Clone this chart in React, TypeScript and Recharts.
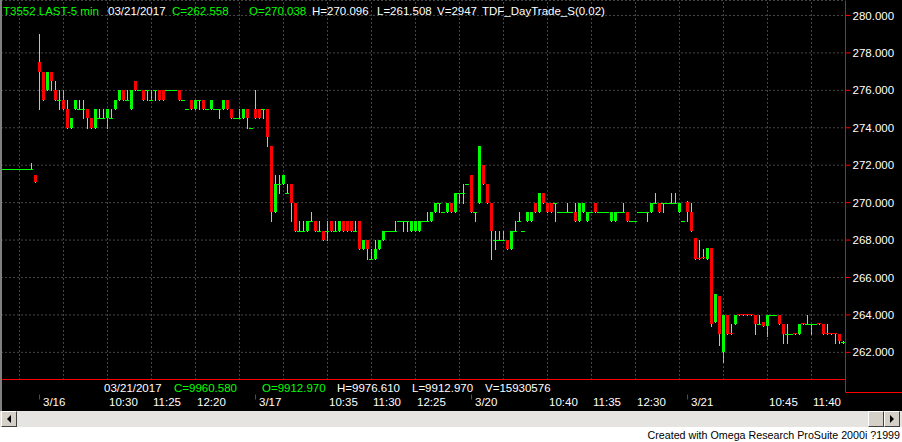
import { ComposedChart, Bar, XAxis, YAxis, CartesianGrid, ReferenceLine } from "recharts";

// open, high, low, close
type Ohlc = [number, number, number, number];

const days = ["3/15", "3/16", "3/17", "3/20", "3/21"];
const dayStart = ["12:50", "9:05", "9:05", "9:05", "9:05"];

const mar15: Ohlc[] = [
  [271.8, 271.8, 271.8, 271.8], [271.8, 271.8, 271.8, 271.8], [271.8, 271.8, 271.8, 271.8],
  [271.8, 271.8, 271.8, 271.8], [271.8, 271.8, 271.8, 271.8], [271.8, 271.8, 271.8, 271.8],
  [271.8, 271.8, 271.8, 271.8], [271.8, 272.1, 271.8, 271.8], [271.5, 271.5, 271.1, 271.1],
];

const mar16: Ohlc[] = [
  [277.5, 279, 275, 277], [277, 277, 275.5, 275.5], [276, 277, 276, 277], [277, 277, 276, 276.5],
  [276, 276.5, 275.5, 275.5], [275.5, 276, 275, 275.5], [275.5, 276, 275, 275], [275, 275.5, 274, 274],
  [274, 274.5, 274, 274.5], [275, 275.5, 275, 275.5], [275, 275.5, 275, 275], [275, 275.5, 274.5, 275],
  [275, 275, 274, 274.5], [274.5, 274.5, 274, 274], [274, 275, 274, 275], [274.5, 275, 274.5, 274.5],
  [274.5, 275, 274.5, 274.5], [274.5, 275, 274, 275], [274.5, 275, 274.5, 274.5], [275, 275.5, 275, 275.5],
  [275.5, 276, 275.5, 276], [276, 276, 275.5, 275.5], [275.5, 276, 275.5, 275.5], [275, 276, 275, 276],
  [276.5, 276.5, 276, 276], [276, 276, 276, 276], [276, 276, 275.5, 275.5], [276, 276, 275.5, 276],
  [275.5, 276, 275.5, 275.5], [276, 276, 275.5, 276], [276, 276, 275.5, 275.5], [276, 276, 275.5, 275.5],
  [276, 276, 276, 276], [276, 276, 276, 276], [276, 276, 276, 276], [276, 276, 275.5, 275.5],
  [275.5, 275.5, 275.5, 275.5], [275, 275, 275, 275], [275.5, 275.5, 275, 275], [275, 275.5, 275, 275.5],
  [275.5, 275.5, 275, 275.5], [275.5, 275.5, 275, 275], [275, 275, 275, 275], [275, 275.5, 275, 275.5],
  [275, 275, 275, 275], [275, 275, 274.5, 275], [275, 275.5, 275, 275.5], [275.5, 275.5, 275, 275],
  [275, 275, 274.5, 274.5], [274.5, 274.5, 274.5, 274.5], [274.5, 275, 274.5, 274.5], [274.5, 275, 274.5, 275],
  [275, 275, 274, 274.5], [274, 274, 274, 274],
];

const mar17: Ohlc[] = [
  [275, 276, 274.5, 274.5], [275, 275, 274.5, 274.5], [275, 275, 274.5, 275], [275, 275, 273, 273.5],
  [273, 273, 269, 269.5], [269.5, 271.5, 269.5, 271], [271, 271.5, 270.5, 271], [271, 271.5, 271, 271.5],
  [270.5, 271, 270.5, 270.5], [271, 271, 269, 270], [270, 270, 268.5, 268.5], [268.5, 269, 268.5, 268.5],
  [268.5, 269, 268.5, 268.5], [268.5, 269, 268.5, 269], [269, 269.5, 269, 269], [269, 269, 268.5, 268.5],
  [268.5, 269, 268.5, 268.5], [268.5, 268.5, 268, 268], [268.5, 269, 268, 268.5], [269, 269, 268.5, 268.5],
  [268.5, 269, 268.5, 268.5], [268.5, 269, 268.5, 269], [269, 269, 268.5, 268.5], [269, 269, 268.5, 268.5],
  [269, 269, 268.5, 268.5], [268.5, 269, 268.5, 268.5], [269, 269, 267.5, 267.5], [267.5, 268, 267.5, 268],
  [268, 268, 267, 267.5], [267, 267.5, 267, 267], [267, 268, 267, 267.5], [267.5, 268, 267.5, 268],
  [268, 268.5, 268, 268.5], [268.5, 268.5, 268.5, 268.5], [268.5, 268.5, 268.5, 268.5], [268.5, 269, 268.5, 268.5],
  [269, 269, 269, 269], [269, 269, 268.5, 269], [269, 269, 268.5, 269], [268.5, 269, 268.5, 269],
  [268.5, 269, 268.5, 269], [268.5, 269, 268.5, 269], [269, 269, 269, 269], [269, 269.5, 269, 269],
  [269, 269.5, 269, 269.5], [269.5, 270, 269.5, 270], [270, 270, 269.5, 270], [269.5, 269.5, 269.5, 269.5],
  [269.5, 270, 269.5, 270], [270, 270, 269.5, 269.5], [269.5, 270.5, 269.5, 270.5], [270.5, 270.5, 270, 270.5],
  [270.5, 271, 270, 270.5], [271, 271, 271, 271],
];

const mar20: Ohlc[] = [
  [271.5, 271.5, 269.5, 269.5], [269.5, 269.5, 269, 269.5], [270, 273, 270, 273], [272, 272, 271, 271],
  [271, 271, 270, 270], [270, 270, 267, 268.5], [268, 268.5, 267.5, 268], [268, 268.5, 268, 268],
  [268, 268.5, 268, 268], [268, 268, 267.5, 267.5], [267.5, 268.5, 267.5, 268.5], [268.5, 269, 268.5, 268.5],
  [269, 269.5, 269, 269], [268.5, 268.5, 268.5, 268.5], [269, 269.5, 269, 269.5], [269, 269.5, 269, 269.5],
  [270, 270, 269.5, 269.5], [269.5, 270.5, 269.5, 270.5], [270.5, 270.5, 270, 270], [270, 270, 269.5, 269.5],
  [270, 270, 269.5, 269.5], [270, 270, 269, 270], [269.5, 269.5, 269.5, 269.5], [269.5, 269.5, 269.5, 269.5],
  [269.5, 270, 269.5, 269.5], [269.5, 269.5, 269.5, 269.5], [269.5, 270, 269, 269], [269, 270, 269, 270],
  [269.5, 270, 269.5, 270], [269, 269.5, 269, 269.5], [269.5, 269.5, 269.5, 269.5], [270, 270, 269.5, 269.5],
  [269.5, 269.5, 269.5, 269.5], [269.5, 269.5, 269.5, 269.5], [269.5, 269.5, 269.5, 269.5], [269, 269.5, 269, 269.5],
  [269, 269.5, 269, 269.5], [269.5, 269.5, 269.5, 269.5], [269.5, 270, 269.5, 269.5], [269.5, 269.5, 269, 269],
  [269, 269, 269, 269], [269, 269, 269, 269], [269.5, 269.5, 269.5, 269.5], [269.5, 269.5, 269.5, 269.5],
  [269.5, 269.5, 269, 269.5], [269.5, 270, 269.5, 270], [270, 270.5, 270, 270], [270, 270, 269.5, 269.5],
  [270, 270, 269.5, 270], [270, 270, 270, 270], [270, 270.5, 270, 270], [270, 270.5, 270, 270],
  [269.5, 270, 269.5, 270], [269, 269, 269, 269],
];

const mar21: Ohlc[] = [
  [270.04, 270.1, 269, 269.5], [269.5, 270, 268.5, 268.5], [268.1, 268.1, 267, 267], [267.05, 268, 267, 267],
  [267.1, 267.5, 267.05, 267.05], [267, 267.6, 267, 267.6], [267.6, 267.6, 263.4, 263.5], [263.6, 265.1, 263.6, 265.1],
  [265, 265, 262.4, 263], [262, 264, 261.51, 264], [264, 264, 263, 263], [263.05, 263.5, 263, 263],
  [263.5, 264, 263.5, 264], [264.05, 264.05, 264, 264], [264.05, 264.05, 264, 264], [264.05, 264.05, 264, 264],
  [264.05, 264.05, 264, 264], [264, 264, 263, 263.5], [263.5, 264, 263.5, 263.5], [263.6, 263.6, 263.4, 263.4],
  [263.4, 264, 262.9, 264], [264, 264, 264, 264], [264, 264, 264, 264], [264, 264, 263.5, 263.5],
  [263.5, 263.5, 262.5, 263], [263, 263.5, 262.5, 263], [263, 263, 263, 263], [263.05, 263.05, 263, 263],
  [263, 263.5, 263, 263.5], [263.55, 263.55, 263.5, 263.5], [263.5, 264, 263.5, 263.5], [263.5, 263.5, 263, 263.5],
  [263.5, 263.5, 263.5, 263.5], [263.55, 263.55, 263.5, 263.5], [263.5, 263.5, 263, 263], [263.05, 263.5, 263, 263],
  [263.05, 263.05, 263, 263], [263.05, 263.05, 262.5, 263], [263, 263, 262.5, 262.6], [262.56, 262.6, 262.5, 262.56],
];

const dayBars = [mar15, mar16, mar17, mar20, mar21];

const priceTicks = [262, 264, 266, 268, 270, 272, 274, 276, 278, 280];

// labelled bars on the time axis (first bar of a day shows the date)
const timeTicks = [
  "3/16 9:05", "3/16 10:30", "3/16 11:25", "3/16 12:20",
  "3/17 9:05", "3/17 10:35", "3/17 11:30", "3/17 12:25",
  "3/20 9:05", "3/20 10:40", "3/20 11:35", "3/20 12:30",
  "3/21 9:05", "3/21 10:45", "3/21 11:40",
];

const data = dayBars.flatMap((bars, d) =>
  bars.map(([o, h, l, c], i) => {
    const [hh, mm] = dayStart[d].split(":").map(Number);
    const t = hh * 60 + mm + 5 * i;
    const time = `${Math.floor(t / 60)}:${String(t % 60).padStart(2, "0")}`;
    return { id: `${days[d]} ${time}`, day: days[d], time, o, h, l, c, range: [l, h] };
  })
);

// dotted vertical grid every 11 bars
const gridIds = data.filter((_, i) => i % 11 === 4).map((d) => d.id);

const GREEN = "#00ff00";
const RED = "#ff0000";
const FONT = "'Liberation Sans', Arial, sans-serif";

const Candle = (props: any) => {
  const { x, y, width, height, payload } = props;
  const { o, h, l, c } = payload;
  const cx = Math.floor(x + width / 2);
  const ppu = h > l ? height / (h - l) : 0;
  const yOf = (v: number) => y + (h - v) * ppu;
  const top = Math.round(yOf(Math.max(o, c)));
  const bot = Math.round(yOf(Math.min(o, c)));
  const color = c >= o ? GREEN : RED;
  const wTop = Math.round(y);
  const wBot = Math.round(y + height);
  return (
    <g>
      {wBot - wTop > 0 && <rect x={cx} y={wTop} width={1} height={wBot - wTop + 1} fill="#c0c0c0" />}
      {bot - top >= 2 ? (
        <rect x={cx - 1} y={top} width={3} height={bot - top} fill={color} />
      ) : (
        <rect x={cx - 2} y={top} width={4} height={1} fill={color} />
      )}
    </g>
  );
};

const TimeTick = (props: any) => {
  const { x, y, payload } = props;
  const bar = data.find((d) => d.id === payload.value);
  if (!bar) return null;
  const isDay = bar.time === "9:05";
  return (
    <g>
      {isDay && <line x1={x} x2={x} y1={y + 15} y2={y + 20} stroke={RED} />}
      <text x={isDay ? x + 3.5 : x + 1.5} y={y + 26.5} fill="#ffffff" fontSize={11.5} fontFamily={FONT}>
        {isDay ? bar.day : bar.time}
      </text>
    </g>
  );
};

const txt = (x: number, y: number, s: string, fill: string) => (
  <text x={x} y={y} fill={fill} fontSize={11.5} fontFamily={FONT}>
    {s}
  </text>
);

const btn = {
  position: "absolute" as const, top: 411, width: 14, height: 14, background: "#d4d0c8",
  borderTop: "1px solid #ffffff", borderLeft: "1px solid #ffffff",
  borderRight: "1px solid #404040", borderBottom: "1px solid #404040",
};

export default function App() {
  return (
    <div style={{ position: "absolute", left: 0, top: 0, width: 902, height: 442, background: "#ffffff" }}>
      <div style={{ position: "absolute", left: 0, top: 0, width: 902, height: 411, background: "#000000" }}>
        <ComposedChart
          width={902}
          height={411}
          data={data}
          margin={{ top: 0.5, right: 0, bottom: 0.5, left: 1.5 }}
          barCategoryGap={0}
        >
          <CartesianGrid stroke="#8c8c8c" strokeDasharray="1 3" vertical={false} />
          {gridIds.map((id) => (
            <ReferenceLine key={id} x={id} stroke="#8c8c8c" strokeDasharray="1 3" />
          ))}
          <XAxis
            dataKey="id"
            ticks={timeTicks}
            interval={0}
            height={31}
            tickSize={0}
            tickMargin={0}
            tick={<TimeTick />}
            axisLine={{ stroke: RED }}
            tickLine={false}
          />
          <YAxis
            orientation="right"
            width={56.5}
            domain={[260.55, 280.8]}
            allowDataOverflow
            ticks={priceTicks}
            tickFormatter={(v: number) => v.toFixed(3)}
            tickSize={5}
            axisLine={{ stroke: RED }}
            tickLine={{ stroke: RED }}
            tick={{ fill: "#ffffff", fontSize: 11.5, fontFamily: FONT }}
          />
          <Bar dataKey="range" shape={<Candle />} isAnimationActive={false} />
        </ComposedChart>
        <svg width={902} height={411} style={{ position: "absolute", left: 0, top: 0, pointerEvents: "none" }}>
          <rect x={0} y={0} width={2} height={411} fill="#808080" />
          <line x1={845.5} x2={845.5} y1={379} y2={392.5} stroke={RED} />
          <line x1={845.5} x2={902} y1={392.5} y2={392.5} stroke={RED} />
          {txt(3, 15, "T3552 LAST-5 min", GREEN)}
          {txt(108, 15, "03/21/2017", "#ffffff")}
          {txt(172, 15, "C=262.558", GREEN)}
          {txt(249, 15, "O=270.038", GREEN)}
          {txt(312, 15, "H=270.096", "#ffffff")}
          {txt(377, 15, "L=261.508", "#ffffff")}
          {txt(437, 15, "V=2947", "#ffffff")}
          {txt(482, 15, "TDF_DayTrade_S(0.02)", "#ffffff")}
          {txt(104, 392, "03/21/2017", "#ffffff")}
          {txt(174, 392, "C=9960.580", GREEN)}
          {txt(262, 392, "O=9912.970", GREEN)}
          {txt(337, 392, "H=9976.610", "#ffffff")}
          {txt(412, 392, "L=9912.970", "#ffffff")}
          {txt(485, 392, "V=15930576", "#ffffff")}
        </svg>
      </div>
      {/* scroll bar */}
      <div style={{ position: "absolute", left: 0, top: 411, width: 902, height: 16, background: "#e6e4e0" }} />
      <div style={{ ...btn, left: 1 }}>
        <svg width={14} height={14} style={{ position: "absolute", left: 0, top: 0 }}>
          <polygon points="5,7 9,3 9,11" fill="#000000" />
        </svg>
      </div>
      <div style={{ ...btn, left: 868 }} />
      <div style={{ ...btn, left: 884 }}>
        <svg width={14} height={14} style={{ position: "absolute", left: 0, top: 0 }}>
          <polygon points="9,7 5,3 5,11" fill="#000000" />
        </svg>
      </div>
      <div
        style={{
          position: "absolute", right: 2, top: 428, fontFamily: FONT, fontSize: 10.7, color: "#000000",
          lineHeight: "14px", whiteSpace: "nowrap",
        }}
      >
        Created with Omega Research ProSuite 2000i ?1999
      </div>
    </div>
  );
}
